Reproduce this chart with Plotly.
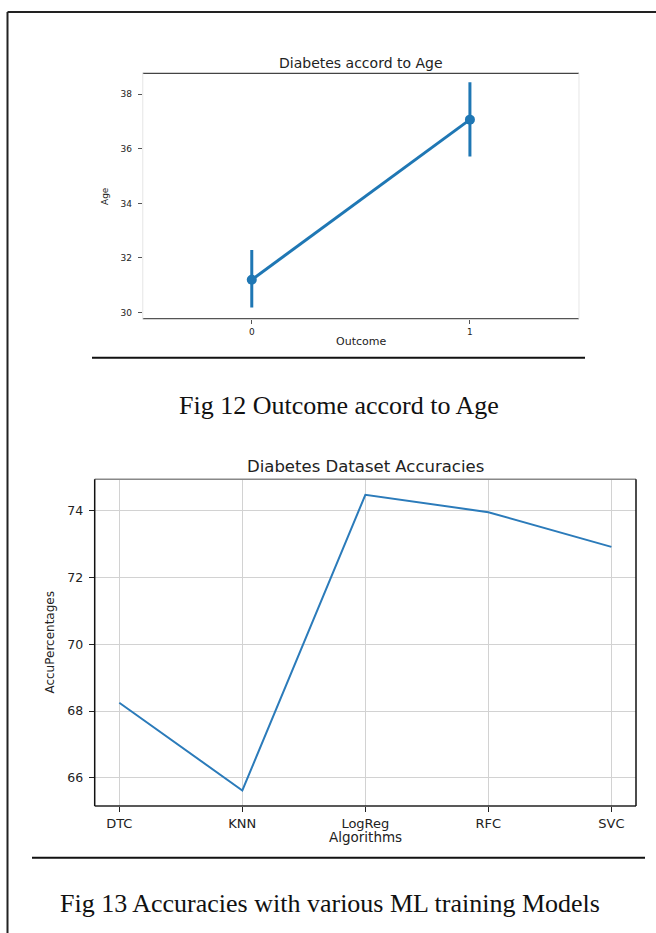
import plotly.graph_objects as go

# ---------------- data ----------------
# Chart 1: Diabetes accord to Age (point plot with CI)
outcome = [0, 1]
age_mean = [31.20, 37.07]
age_ci_low = [30.18, 35.72]
age_ci_high = [32.29, 38.44]
age_ticks = [30, 32, 34, 36, 38]

# Chart 2: Diabetes Dataset Accuracies
algorithms = ["DTC", "KNN", "LogReg", "RFC", "SVC"]
accuracies = [68.25, 65.62, 74.48, 73.96, 72.92]
acc_ticks = [66, 68, 70, 72, 74]

W, H = 656, 933


def px(x):
    return x / W


def py(y):
    return 1 - y / H


# plot area boxes (pixels)
c1 = dict(l=142.7, r=579.0, t=73.3, b=318.7)
c2 = dict(l=94.7, r=636.0, t=479.3, b=806.0)

blue = "#1f77b4"
fig = go.Figure()

err_plus = [h - m for h, m in zip(age_ci_high, age_mean)]
err_minus = [m - l for m, l in zip(age_mean, age_ci_low)]
fig.add_trace(go.Scatter(
    x=outcome, y=age_mean, mode="lines+markers",
    line=dict(color=blue, width=3),
    marker=dict(color=blue, size=10),
    error_y=dict(type="data", array=err_plus, arrayminus=err_minus,
                 color=blue, thickness=3, width=0),
    xaxis="x", yaxis="y", showlegend=False, hoverinfo="skip"))

fig.add_trace(go.Scatter(
    x=algorithms, y=accuracies, mode="lines",
    line=dict(color="#2b7bba", width=2),
    xaxis="x2", yaxis="y2", showlegend=False, hoverinfo="skip"))

tickfont1 = dict(family="DejaVu Sans", size=9, color="#222")
tickfont2x = dict(family="DejaVu Sans", size=13, color="#222")
tickfont2y = dict(family="DejaVu Sans", size=12.5, color="#222")

fig.update_layout(
    width=W, height=H, margin=dict(l=0, r=0, t=0, b=0),
    paper_bgcolor="white", plot_bgcolor="white",
    xaxis=dict(domain=[px(c1["l"]), px(c1["r"])], range=[-0.5, 1.5],
               tickvals=outcome, ticktext=[str(o) for o in outcome],
               showgrid=False, zeroline=False, showline=False,
               ticks="outside", ticklen=4, tickcolor="#555", tickwidth=1,
               tickfont=tickfont1, anchor="y"),
    yaxis=dict(domain=[py(c1["b"]), py(c1["t"])], range=[29.77, 38.77],
               tickvals=age_ticks, showgrid=False, zeroline=False, showline=False,
               ticks="outside", ticklen=4, tickcolor="#555", tickwidth=1,
               ticklabelstandoff=4,
               tickfont=tickfont1, anchor="x"),
    xaxis2=dict(domain=[px(c2["l"]), px(c2["r"])], range=[-0.2, 4.2],
                type="category", categoryorder="array", categoryarray=algorithms,
                showgrid=True, gridcolor="#d2d2d2", gridwidth=1.3,
                zeroline=False, showline=False,
                ticks="outside", ticklen=5, tickcolor="#222", tickwidth=1,
                tickfont=tickfont2x, anchor="y2"),
    yaxis2=dict(domain=[py(c2["b"]), py(c2["t"])], range=[65.155, 74.945],
                tickvals=acc_ticks,
                showgrid=True, gridcolor="#d2d2d2", gridwidth=1.3,
                zeroline=False, showline=False,
                ticks="outside", ticklen=5, tickcolor="#222", tickwidth=1,
                ticklabelstandoff=3,
                tickfont=tickfont2y, anchor="x2"),
)

shapes = []


def line(x0, y0, x1, y1, color, width):
    shapes.append(dict(type="line", xref="paper", yref="paper",
                       x0=px(x0), y0=py(y0), x1=px(x1), y1=py(y1),
                       line=dict(color=color, width=width)))


# page border (left and top)
line(7.5, 12, 7.5, 940, "#222", 2)
line(7.5, 12, 660, 12, "#222", 2)

# chart 1 spines
line(c1["l"], c1["t"], c1["r"], c1["t"], "#444", 1.3)
line(c1["l"], c1["b"], c1["r"], c1["b"], "#555", 1.3)
line(c1["l"], c1["t"], c1["l"], c1["b"], "#ececec", 1.3)
line(c1["r"], c1["t"], c1["r"], c1["b"], "#ececec", 1.3)

# chart 2 spines
line(c2["l"], c2["t"], c2["r"], c2["t"], "#888", 1.5)
line(c2["l"], c2["b"], c2["r"], c2["b"], "#222", 1.5)
line(c2["l"], c2["t"], c2["l"], c2["b"], "#111", 1.5)
line(c2["r"], c2["t"], c2["r"], c2["b"], "#111", 1.5)

# separator lines under charts
line(92, 357.7, 585, 357.7, "#111", 2)
line(32, 857.7, 645, 857.7, "#111", 2)

fig.update_layout(shapes=shapes)

ann = []


def text(x, y, s, size, family="DejaVu Sans", color="#222", angle=0):
    ann.append(dict(x=px(x), y=py(y), xref="paper", yref="paper", text=s,
                    showarrow=False, xanchor="center", yanchor="middle",
                    textangle=angle,
                    font=dict(family=family, size=size, color=color)))


text(360.9, 63.0, "Diabetes accord to Age", 14)
text(360.9, 341.0, "Outcome", 11)
text(105.0, 196.0, "Age", 9, angle=-90)
text(338.5, 406.0, "Fig 12 Outcome accord to Age", 26, family="Liberation Serif", color="#111")

text(365.3, 466.5, "Diabetes Dataset Accuracies", 16.5)
text(365.3, 836.5, "Algorithms", 13.5)
text(50.0, 642.6, "AccuPercentages", 12, angle=-90)
text(330.0, 903.0, "Fig 13 Accuracies with various ML training Models", 26,
     family="Liberation Serif", color="#111")

fig.update_layout(annotations=ann)

fig.write_html("out.html", config={"displayModeBar": False},
               post_script="document.body.style.margin='0';document.body.style.padding='0';")
